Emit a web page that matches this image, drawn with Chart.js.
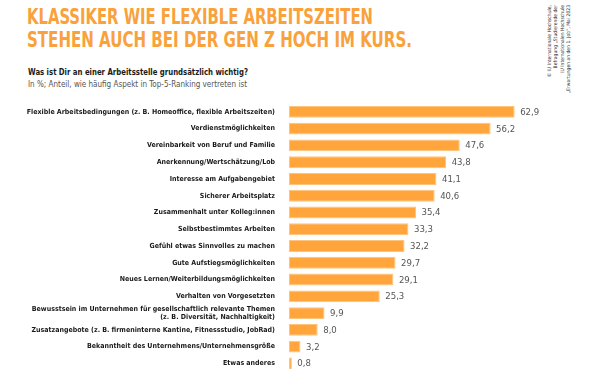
<!DOCTYPE html>
<html>
<head>
<meta charset="utf-8">
<script src="https://cdn.jsdelivr.net/npm/chart.js@4.4.1/dist/chart.umd.min.js"></script>
<style>
  html, body { margin: 0; padding: 0; width: 600px; height: 376px; overflow: hidden; background: #fff; }
  .t { position: absolute; white-space: nowrap; transform-origin: 0 50%; line-height: 1; }
  .title { font-family: 'DejaVu Sans Condensed', sans-serif; font-weight: bold; font-size: 22px; color: #F9A13A; left: 27px; }
  .sub1 { font-family: 'DejaVu Sans Condensed', sans-serif; font-weight: bold; font-size: 9.5px; color: #1a1a1a; left: 28px; }
  .sub2 { font-family: 'DejaVu Sans Condensed', sans-serif; font-weight: normal; font-size: 9.5px; color: #555555; left: 28px; }
  #copy { position: absolute; left: 546px; top: 95px; width: 90px; transform-origin: 0 0; transform: rotate(-90deg);
    font-family: 'DejaVu Sans Condensed', sans-serif; font-size: 5px; line-height: 6.4px; color: #333; text-align: right; white-space: nowrap; }
  #c { position: absolute; left: 0; top: 0; }
</style>
</head>
<body>
<div class="t title" id="t1" data-w="346" style="top:6px">KLASSIKER WIE FLEXIBLE ARBEITSZEITEN</div>
<div class="t title" id="t2" data-w="385" style="top:29px">STEHEN AUCH BEI DER GEN Z HOCH IM KURS.</div>
<div class="t sub1" id="s1" data-w="220" style="top:67px">Was ist Dir an einer Arbeitsstelle grundsätzlich wichtig?</div>
<div class="t sub2" id="s2" data-w="219" style="top:79px">In %; Anteil, wie häufig Aspekt in Top-5-Ranking vertreten ist</div>
<div id="copy">© IU Internationale Hochschule,<br>Befragung „Studierende der<br>IU Internationalen Hochschule<br>„Erwartungen an den 1. Job“, Mai 2023</div>
<canvas id="c" width="600" height="390" style="width:600px;height:390px"></canvas>
<script>
const categories = [
  "Flexible Arbeitsbedingungen (z. B. Homeoffice, flexible Arbeitszeiten)",
  "Verdienstmöglichkeiten",
  "Vereinbarkeit von Beruf und Familie",
  "Anerkennung/Wertschätzung/Lob",
  "Interesse am Aufgabengebiet",
  "Sicherer Arbeitsplatz",
  "Zusammenhalt unter Kolleg:innen",
  "Selbstbestimmtes Arbeiten",
  "Gefühl etwas Sinnvolles zu machen",
  "Gute Aufstiegsmöglichkeiten",
  "Neues Lernen/Weiterbildungsmöglichkeiten",
  "Verhalten von Vorgesetzten",
  ["Bewusstsein im Unternehmen für gesellschaftlich relevante Themen", "(z. B. Diversität, Nachhaltigkeit)"],
  "Zusatzangebote (z. B. firmeninterne Kantine, Fitnessstudio, JobRad)",
  "Bekanntheit des Unternehmens/Unternehmensgröße",
  "Etwas anderes"
];
const values = [62.9, 56.2, 47.6, 43.8, 41.1, 40.6, 35.4, 33.3, 32.2, 29.7, 29.1, 25.3, 9.9, 8.0, 3.2, 0.8];

// fit header texts to measured widths
document.querySelectorAll('.t').forEach(el => {
  const w = el.getBoundingClientRect().width;
  const target = parseFloat(el.dataset.w);
  el.style.transform = 'scaleX(' + (target / w) + ')';
});

const valueLabels = {
  id: 'valueLabels',
  afterDatasetsDraw(chart) {
    const ctx = chart.ctx;
    const meta = chart.getDatasetMeta(0);
    ctx.save();
    ctx.font = '9.5px "DejaVu Sans Condensed", sans-serif';
    ctx.fillStyle = '#555555';
    ctx.textBaseline = 'middle';
    ctx.textAlign = 'left';
    meta.data.forEach((bar, i) => {
      ctx.fillText(values[i].toFixed(1).replace('.', ','), bar.x + 5.5, bar.y + 0.5);
    });
    ctx.restore();
  }
};

new Chart(document.getElementById('c'), {
  type: 'bar',
  data: {
    labels: categories,
    datasets: [{
      data: values,
      backgroundColor: '#FFA53C',
      borderColor: '#FFC47A',
      borderWidth: 1,
      borderSkipped: false,
      categoryPercentage: 1,
      barPercentage: 0.71
    }]
  },
  options: {
    indexAxis: 'y',
    responsive: false,
    animation: false,
    layout: { padding: { top: 103.5, bottom: 13.4, right: 24, left: 0 } },
    plugins: { legend: { display: false }, tooltip: { enabled: false }, title: { display: false } },
    scales: {
      x: { display: false, min: 0, max: 80 },
      y: {
        grid: { display: false, drawTicks: false },
        border: { display: false },
        ticks: {
          padding: 14,
          color: '#1a1a1a',
          autoSkip: false,
          font: { family: '"DejaVu Sans Condensed", sans-serif', weight: 'bold', size: 7, lineHeight: 1.2 }
        },
        afterFit(scale) { scale.width = 289; }
      }
    }
  },
  plugins: [valueLabels]
});
</script>
</body>
</html>
